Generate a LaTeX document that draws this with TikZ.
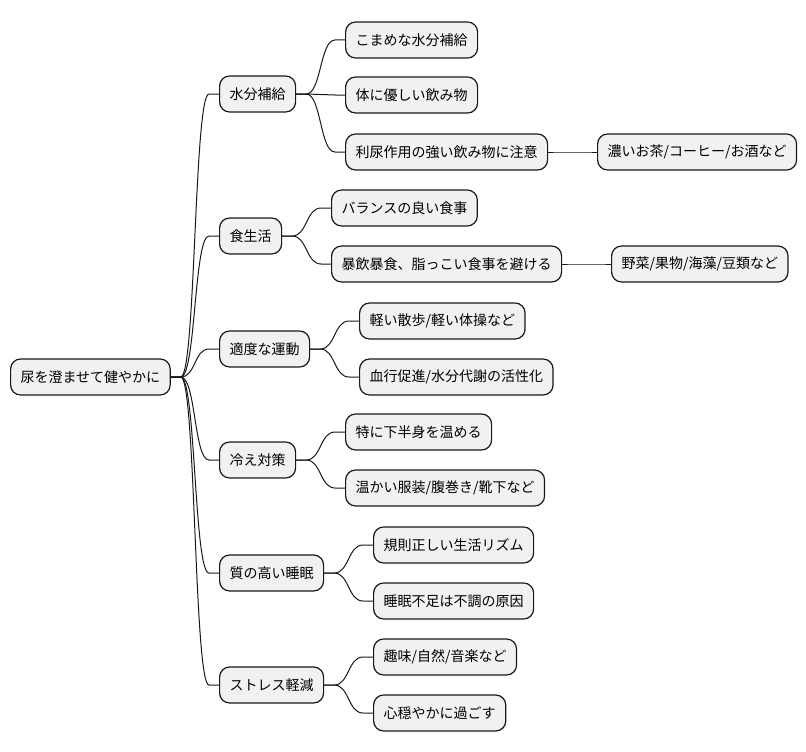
\documentclass[tikz,border=0pt]{standalone}
\usepackage{fontspec}
\setmainfont{Noto Sans CJK JP}
\usetikzlibrary{positioning}

\definecolor{boxfill}{HTML}{F1F1F1}
\definecolor{boxline}{HTML}{181818}

\begin{document}
\begin{tikzpicture}[
    x=1pt, y=-1pt,
    topic/.style={draw=boxline, fill=boxfill, line width=1.2pt, rounded corners=10pt, anchor=west,
        minimum height=36pt, inner xsep=10pt, font=\fontsize{14}{16}\selectfont},
    link/.style={boxline, line width=1pt}
]
\useasboundingbox (0,0) rectangle (806,752);

% root
\node[topic] (root) at (10,377) {尿を澄ませて健やかに};

% first level
\node[topic] (water) at (219,94) {水分補給};
\node[topic] (diet) at (219,236) {食生活};
\node[topic] (move) at (219,349) {適度な運動};
\node[topic] (cold) at (219,460) {冷え対策};
\node[topic] (sleep) at (219,573) {質の高い睡眠};
\node[topic] (stress) at (219,685) {ストレス軽減};

% second level
\node[topic] (waterA) at (345,40) {こまめな水分補給};
\node[topic] (waterB) at (345,95) {体に優しい飲み物};
\node[topic] (waterC) at (345,152) {利尿作用の強い飲み物に注意};
\node[topic] (dietA) at (331,208) {バランスの良い食事};
\node[topic] (dietB) at (331,264) {暴飲暴食、脂っこい食事を避ける};
\node[topic] (moveA) at (359,321) {軽い散歩/軽い体操など};
\node[topic] (moveB) at (359,377) {血行促進/水分代謝の活性化};
\node[topic] (coldA) at (345,432) {特に下半身を温める};
\node[topic] (coldB) at (345,488) {温かい服装/腹巻き/靴下など};
\node[topic] (sleepA) at (373,545) {規則正しい生活リズム};
\node[topic] (sleepB) at (373,601) {睡眠不足は不調の原因};
\node[topic] (stressA) at (373,657) {趣味/自然/音楽など};
\node[topic] (stressB) at (373,713) {心穏やかに過ごす};

% third level
\node[topic] (waterC1) at (597,152) {濃いお茶/コーヒー/お酒など};
\node[topic] (dietB1) at (611,264) {野菜/果物/海藻/豆類など};

\foreach \a/\b in {root/water, root/diet, root/move, root/cold, root/sleep, root/stress,
    water/waterA, water/waterB, water/waterC, diet/dietA, diet/dietB,
    move/moveA, move/moveB, cold/coldA, cold/coldB, sleep/sleepA, sleep/sleepB,
    stress/stressA, stress/stressB, waterC/waterC1, dietB/dietB1}
  \draw[link] (\a.east) -- ++(10,0) .. controls +(15,0) and +(-15,0) .. ([xshift=-10pt]\b.west) -- (\b.west);
\end{tikzpicture}
\end{document}
